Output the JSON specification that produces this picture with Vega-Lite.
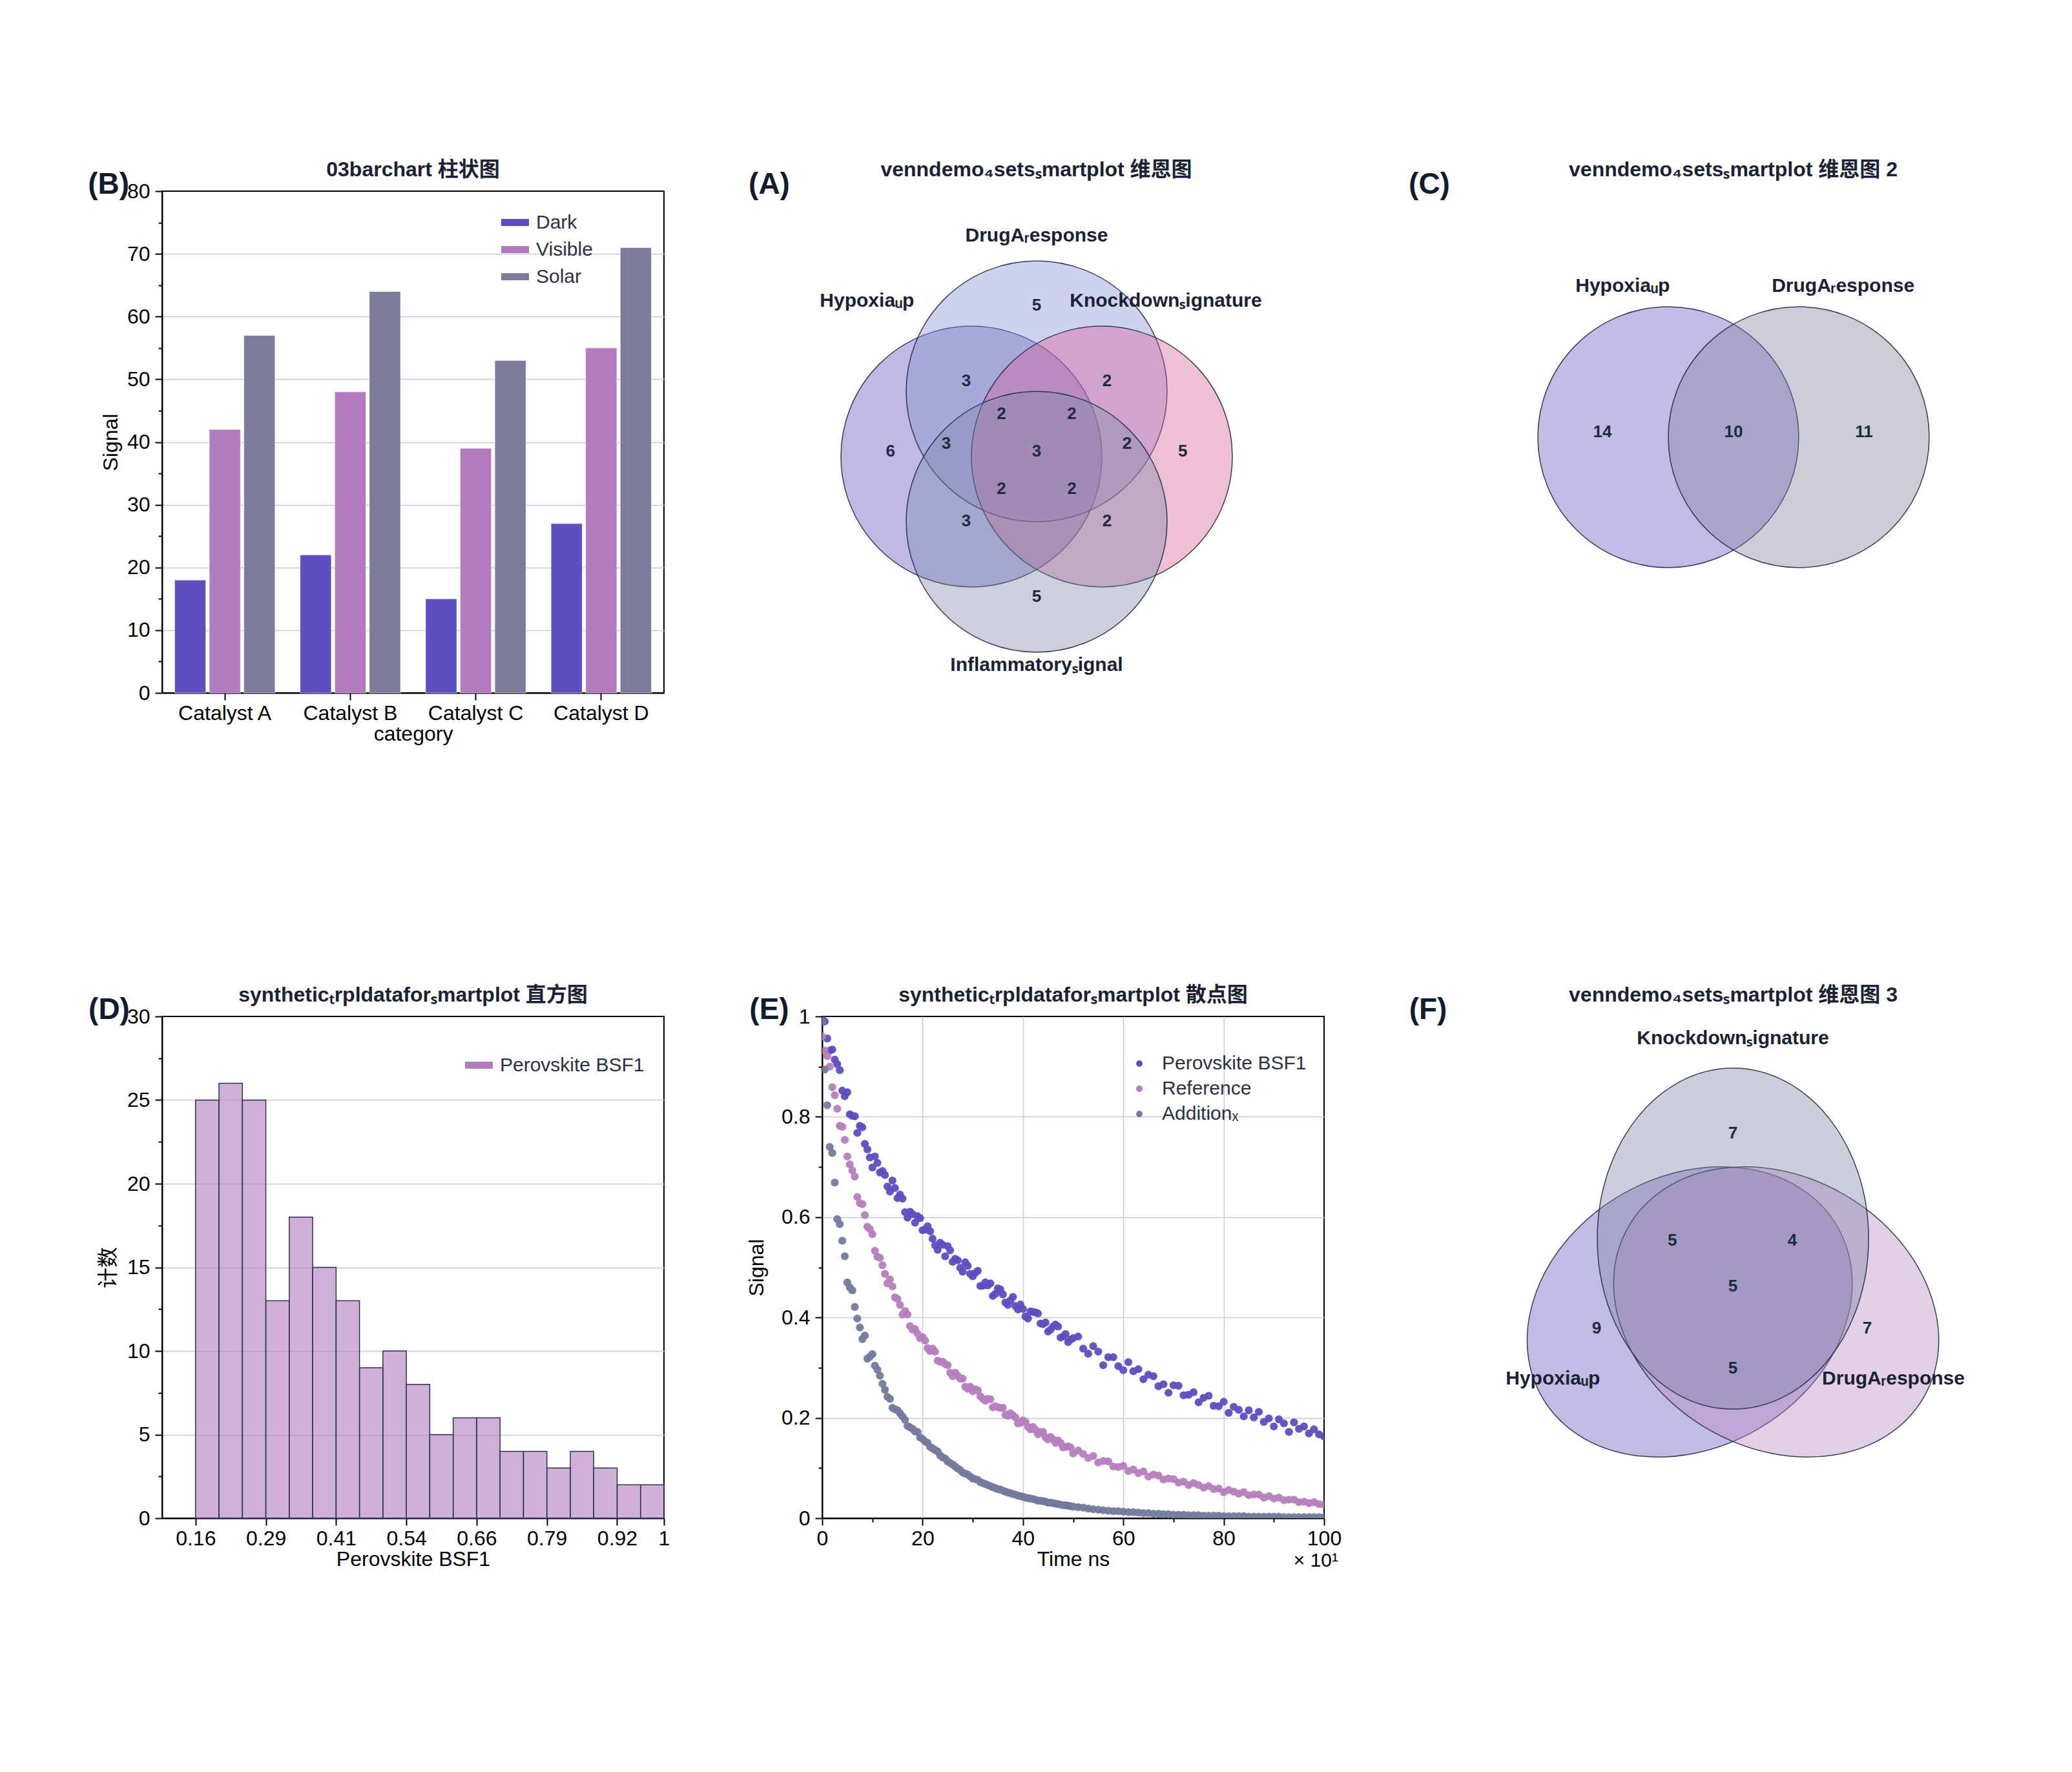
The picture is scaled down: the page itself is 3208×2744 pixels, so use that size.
{
"$schema":"https://vega.github.io/schema/vega-lite/v6.json",
"background":"white",
"padding":{"left":135,"top":246,"right":40,"bottom":40},
"bounds":"flush",
"columns":3,
"spacing":{"row":501,"column":245},
"resolve":{"scale":{"color":"independent"},"legend":{"color":"independent"}},
"config":{
 "font":"Liberation Sans, Noto Sans CJK SC",
 "view":{"stroke":"black","strokeWidth":2},
 "title":{"fontSize":32,"fontWeight":"bold","color":"#1a2233","anchor":"middle","frame":"group","offset":-17},
 "axis":{"domainColor":"black","domainWidth":2,"tickColor":"black","tickWidth":2,"tickSize":11,"labelFontSize":32,"labelColor":"black","labelPadding":8,"labelFlush":false,"labelOverlap":false,"titleFontSize":32,"titleFontWeight":"normal","titleColor":"black","titlePadding":8,"gridColor":"#c5cbd6","gridWidth":1.5},
 "axisX":{"labelPadding":5,"titlePadding":1},
 "legend":{"labelFontSize":30,"labelColor":"#2b3140","labelLimit":0,"symbolStrokeWidth":0,"symbolOpacity":1,"rowPadding":12}
},
"concat":[
 {
  "width":777,"height":777,
  "title":{"text":"03barchart 柱状图"},
  "encoding":{
   "x":{"field":"category","type":"nominal","scale":{"paddingInner":0.2,"paddingOuter":0.1},"axis":{"title":"category","labelAngle":0,"grid":false}},
   "y":{"field":"value","type":"quantitative","scale":{"domain":[0,80],"nice":false},"axis":{"title":"Signal","values":[0,5,10,15,20,25,30,35,40,45,50,55,60,65,70,75,80],"labelExpr":"datum.value % 10 === 0 ? datum.label : ''","tickSize":{"condition":{"test":"datum.value % 10 === 0","value":11},"value":6},"gridOpacity":{"condition":{"test":"datum.value % 10 === 0 && datum.value > 0 && datum.value < 80","value":1},"value":0}}}
  },
  "layer":[
   {"data":{"values":[
     {"category":"Catalyst A","series":"Dark","value":18},
     {"category":"Catalyst A","series":"Visible","value":42},
     {"category":"Catalyst A","series":"Solar","value":57},
     {"category":"Catalyst B","series":"Dark","value":22},
     {"category":"Catalyst B","series":"Visible","value":48},
     {"category":"Catalyst B","series":"Solar","value":64},
     {"category":"Catalyst C","series":"Dark","value":15},
     {"category":"Catalyst C","series":"Visible","value":39},
     {"category":"Catalyst C","series":"Solar","value":53},
     {"category":"Catalyst D","series":"Dark","value":27},
     {"category":"Catalyst D","series":"Visible","value":55},
     {"category":"Catalyst D","series":"Solar","value":71}]},
    "mark":{"type":"bar","stroke":"white","strokeWidth":1,"strokeOpacity":0.6},
    "encoding":{
     "xOffset":{"field":"series","type":"nominal","sort":["Dark","Visible","Solar"],"scale":{"paddingInner":0.1}},
     "color":{"field":"series","type":"nominal","scale":{"domain":["Dark","Visible","Solar"],"range":["#5c4fc0","#b27bbd","#7b7b9c"]},"legend":{"title":null,"orient":"none","legendX":525,"legendY":27,"symbolType":"M-1,-0.26L1,-0.26L1,0.26L-1,0.26Z","symbolSize":1849,"labelOffset":11,"rowPadding":5}}}},
   {"data":{"values":[{"tag":"(B)","category":"Catalyst A","value":80}]},
    "mark":{"type":"text","fontSize":46,"fontWeight":"bold","color":"#131c2e","baseline":"middle","dx":-180,"dy":-10},
    "encoding":{"text":{"field":"tag"}}}
  ]
 },
 {
  "width":777,"height":777,
  "view":{"stroke":null},
  "title":{"text":"venndemo₄setsₛmartplot 维恩图","dx":-57},
  "encoding":{
   "x":{"field":"x","type":"quantitative","scale":{"domain":[-3.287,4.406],"nice":false,"zero":false},"axis":null},
   "y":{"field":"y","type":"quantitative","scale":{"domain":[-3.624,4.069],"nice":false,"zero":false},"axis":null}
  },
  "layer":[
   {"data":{"values":[{"set":"Hypoxia_up","x":-1,"y":0},{"set":"DrugA_response","x":0,"y":1},{"set":"Knockdown_signature","x":1,"y":0},{"set":"Inflammatory_signal","x":0,"y":-1}]},
    "mark":{"type":"point","shape":"circle","filled":true,"size":163216,"opacity":1,"fillOpacity":0.4,"stroke":"#222c45","strokeWidth":1.5,"strokeOpacity":0.9},
    "encoding":{"color":{"field":"set","type":"nominal","scale":{"domain":["Hypoxia_up","DrugA_response","Knockdown_signature","Inflammatory_signal"],"range":["#6250b9","#878ed4","#d45f96","#7d89a7"]},"legend":null}}},
   {"data":{"values":[
     {"n":"5","x":0,"y":2.32},{"n":"3","x":-1.08,"y":1.16},{"n":"2","x":1.08,"y":1.16},
     {"n":"2","x":-0.54,"y":0.65},{"n":"2","x":0.54,"y":0.65},
     {"n":"6","x":-2.24,"y":0.08},{"n":"3","x":-1.385,"y":0.2},{"n":"3","x":0,"y":0.08},{"n":"2","x":1.385,"y":0.2},{"n":"5","x":2.24,"y":0.08},
     {"n":"2","x":-0.54,"y":-0.5},{"n":"2","x":0.54,"y":-0.5},
     {"n":"3","x":-1.08,"y":-0.99},{"n":"2","x":1.08,"y":-0.99},{"n":"5","x":0,"y":-2.15}]},
    "mark":{"type":"text","fontSize":26,"fontWeight":"bold","color":"#1f2b40","baseline":"middle"},
    "encoding":{"text":{"field":"n"}}},
   {"data":{"values":[
     {"label":"DrugAᵣesponse","x":0,"y":3.39},{"label":"Hypoxiaᵤp","x":-2.6,"y":2.39},
     {"label":"Knockdownₛignature","x":1.98,"y":2.39},{"label":"Inflammatoryₛignal","x":0,"y":-3.2}]},
    "mark":{"type":"text","fontSize":30,"fontWeight":"bold","color":"#1a2233","baseline":"middle"},
    "encoding":{"text":{"field":"label"}}},
   {"data":{"values":[{"tag":"(A)","x":-3.287,"y":4.069}]},
    "mark":{"type":"text","fontSize":46,"fontWeight":"bold","color":"#131c2e","baseline":"middle","dx":-82,"dy":-10},
    "encoding":{"text":{"field":"tag"}}}
  ]
 },
 {
  "width":777,"height":777,
  "view":{"stroke":null},
  "title":{"text":"venndemo₄setsₛmartplot 维恩图 2"},
  "encoding":{
   "x":{"field":"x","type":"quantitative","scale":{"domain":[-3.851,3.842],"nice":false,"zero":false},"axis":null},
   "y":{"field":"y","type":"quantitative","scale":{"domain":[-3.921,3.772],"nice":false,"zero":false},"axis":null}
  },
  "layer":[
   {"data":{"values":[{"set":"Hypoxia_up","x":-1,"y":0},{"set":"DrugA_response","x":1,"y":0}]},
    "mark":{"type":"point","shape":"circle","filled":true,"size":163216,"opacity":1,"fillOpacity":0.4,"stroke":"#222c45","strokeWidth":1.5,"strokeOpacity":0.9},
    "encoding":{"color":{"field":"set","type":"nominal","scale":{"domain":["Hypoxia_up","DrugA_response"],"range":["#6455c1","#8282a0"]},"legend":null}}},
   {"data":{"values":[{"n":"14","x":-2.01,"y":0.08},{"n":"10","x":0,"y":0.08},{"n":"11","x":2.0,"y":0.08}]},
    "mark":{"type":"text","fontSize":26,"fontWeight":"bold","color":"#1f2b40","baseline":"middle"},
    "encoding":{"text":{"field":"n"}}},
   {"data":{"values":[{"label":"Hypoxiaᵤp","x":-1.7,"y":2.32},{"label":"DrugAᵣesponse","x":1.68,"y":2.32}]},
    "mark":{"type":"text","fontSize":30,"fontWeight":"bold","color":"#1a2233","baseline":"middle"},
    "encoding":{"text":{"field":"label"}}},
   {"data":{"values":[{"tag":"(C)","x":-3.851,"y":3.772}]},
    "mark":{"type":"text","fontSize":46,"fontWeight":"bold","color":"#131c2e","baseline":"middle","dx":-82,"dy":-10},
    "encoding":{"text":{"field":"tag"}}}
  ]
 },
 {
  "width":777,"height":777,
  "title":{"text":"syntheticₜrpldataforₛmartplot 直方图"},
  "encoding":{
   "x":{"field":"b0","type":"quantitative","scale":{"domain":[0.1,1.0],"nice":false,"zero":false},"axis":{"title":"Perovskite BSF1","values":[0.16,0.286,0.412,0.538,0.664,0.79,0.916,1.0],"format":".2~f","grid":false}},
   "y":{"field":"n","type":"quantitative","scale":{"domain":[0,30],"nice":false},"axis":{"title":"计数","titlePadding":12,"values":[0,2.5,5,7.5,10,12.5,15,17.5,20,22.5,25,27.5,30],"labelExpr":"datum.value % 5 === 0 ? datum.label : ''","tickSize":{"condition":{"test":"datum.value % 5 === 0","value":11},"value":6},"gridOpacity":{"condition":{"test":"datum.value % 5 === 0 && datum.value > 0 && datum.value < 30","value":1},"value":0}}}
  },
  "layer":[
   {"data":{"values":[
     {"b0":0.160,"b1":0.202,"n":25},{"b0":0.202,"b1":0.244,"n":26},{"b0":0.244,"b1":0.286,"n":25},
     {"b0":0.286,"b1":0.328,"n":13},{"b0":0.328,"b1":0.370,"n":18},{"b0":0.370,"b1":0.412,"n":15},
     {"b0":0.412,"b1":0.454,"n":13},{"b0":0.454,"b1":0.496,"n":9},{"b0":0.496,"b1":0.538,"n":10},
     {"b0":0.538,"b1":0.580,"n":8},{"b0":0.580,"b1":0.622,"n":5},{"b0":0.622,"b1":0.664,"n":6},
     {"b0":0.664,"b1":0.706,"n":6},{"b0":0.706,"b1":0.748,"n":4},{"b0":0.748,"b1":0.790,"n":4},
     {"b0":0.790,"b1":0.832,"n":3},{"b0":0.832,"b1":0.874,"n":4},{"b0":0.874,"b1":0.916,"n":3},
     {"b0":0.916,"b1":0.958,"n":2},{"b0":0.958,"b1":1.000,"n":2}]},
    "mark":{"type":"bar","fillOpacity":0.6,"stroke":"#2b3450","strokeWidth":1.5},
    "encoding":{
     "x2":{"field":"b1"},
     "y2":{"datum":0},
     "color":{"datum":"Perovskite BSF1","type":"nominal","scale":{"domain":["Perovskite BSF1"],"range":["#b27bbd"]},"legend":{"title":null,"orient":"none","legendX":469,"legendY":54,"symbolType":"M-1,-0.26L1,-0.26L1,0.26L-1,0.26Z","symbolSize":1849,"labelOffset":11,"rowPadding":5}}}},
   {"data":{"values":[{"tag":"(D)","b0":0.1,"n":30}]},
    "mark":{"type":"text","fontSize":46,"fontWeight":"bold","color":"#131c2e","baseline":"middle","dx":-82,"dy":-10},
    "encoding":{"text":{"field":"tag"}}}
  ]
 },
 {
  "width":777,"height":777,
  "title":{"text":"syntheticₜrpldataforₛmartplot 散点图"},
  "encoding":{
   "x":{"field":"t","type":"quantitative","scale":{"domain":[0,100],"nice":false,"zero":false},"axis":{"title":"Time ns","values":[0,10,20,30,40,50,60,70,80,90,100],"labelExpr":"datum.value % 20 === 0 ? datum.label : ''","tickSize":{"condition":{"test":"datum.value % 20 === 0","value":11},"value":6},"gridOpacity":{"condition":{"test":"datum.value % 20 === 0 && datum.value > 0 && datum.value < 100","value":1},"value":0}}},
   "y":{"field":"v","type":"quantitative","scale":{"domain":[0,1],"nice":false,"zero":false},"axis":{"title":"Signal","titlePadding":21,"values":[0,0.1,0.2,0.3,0.4,0.5,0.6,0.7,0.8,0.9,1],"labelExpr":"round(datum.value*10) % 2 === 0 ? format(datum.value, '~g') : ''","tickSize":{"condition":{"test":"round(datum.value*10) % 2 === 0","value":11},"value":6},"gridOpacity":{"condition":{"test":"round(datum.value*10) % 2 === 0 && datum.value > 0 && datum.value < 1","value":1},"value":0}}}
  },
  "layer":[
   {"data":{"values":[
{"t":0,"v":1},{"t":0.5,"v":0.99},{"t":1,"v":0.956},{"t":1.5,"v":0.932},{"t":2,"v":0.934},{"t":2.5,"v":0.914},{"t":3,"v":0.905},{"t":3.5,"v":0.893},{"t":4,"v":0.852},{"t":4.5,"v":0.841},
{"t":5,"v":0.849},{"t":5.5,"v":0.805},{"t":6,"v":0.802},{"t":6.5,"v":0.801},{"t":7,"v":0.768},{"t":7.5,"v":0.782},{"t":8,"v":0.779},{"t":8.5,"v":0.746},{"t":9,"v":0.735},{"t":9.5,"v":0.719},
{"t":10,"v":0.699},{"t":10.5,"v":0.721},{"t":11,"v":0.708},{"t":11.5,"v":0.689},{"t":12,"v":0.692},{"t":12.5,"v":0.684},{"t":13,"v":0.661},{"t":13.5,"v":0.651},{"t":14,"v":0.673},{"t":14.5,"v":0.658},
{"t":15,"v":0.638},{"t":15.5,"v":0.645},{"t":16,"v":0.637},{"t":16.5,"v":0.61},{"t":17,"v":0.599},{"t":17.5,"v":0.611},{"t":18,"v":0.606},{"t":18.5,"v":0.589},{"t":19,"v":0.602},{"t":19.5,"v":0.598},
{"t":20,"v":0.574},{"t":20.5,"v":0.575},{"t":21,"v":0.582},{"t":21.5,"v":0.572},{"t":22,"v":0.557},{"t":22.5,"v":0.544},{"t":23,"v":0.535},{"t":23.5,"v":0.549},{"t":24,"v":0.545},{"t":24.5,"v":0.522},
{"t":25,"v":0.542},{"t":25.5,"v":0.534},{"t":26,"v":0.511},{"t":26.5,"v":0.517},{"t":27,"v":0.514},{"t":27.5,"v":0.499},{"t":28,"v":0.491},{"t":28.5,"v":0.51},{"t":29,"v":0.503},{"t":29.5,"v":0.487},
{"t":30,"v":0.482},{"t":30.5,"v":0.489},{"t":31,"v":0.493},{"t":31.5,"v":0.463},{"t":32,"v":0.463},{"t":32.5,"v":0.47},{"t":33,"v":0.464},{"t":33.5,"v":0.468},{"t":34,"v":0.443},{"t":34.5,"v":0.447},
{"t":35,"v":0.458},{"t":35.5,"v":0.456},{"t":36,"v":0.446},{"t":36.5,"v":0.43},{"t":37,"v":0.425},{"t":37.5,"v":0.434},{"t":38,"v":0.441},{"t":38.5,"v":0.423},{"t":39,"v":0.416},{"t":39.5,"v":0.426},
{"t":40,"v":0.417},{"t":40.5,"v":0.402},{"t":41,"v":0.398},{"t":41.5,"v":0.412},{"t":42,"v":0.411},{"t":42.5,"v":0.41},{"t":43,"v":0.408},{"t":43.5,"v":0.388},{"t":44,"v":0.387},{"t":44.5,"v":0.39},
{"t":45,"v":0.372},{"t":45.5,"v":0.376},{"t":46,"v":0.382},{"t":46.5,"v":0.386},{"t":47,"v":0.382},{"t":47.5,"v":0.36},{"t":48,"v":0.362},{"t":48.5,"v":0.367},{"t":49,"v":0.351},{"t":49.5,"v":0.356},
{"t":50,"v":0.359},{"t":51,"v":0.362},{"t":52,"v":0.338},{"t":53,"v":0.328},{"t":54,"v":0.343},{"t":55,"v":0.332},{"t":56,"v":0.305},{"t":57,"v":0.321},{"t":58,"v":0.321},{"t":59,"v":0.303},
{"t":60,"v":0.295},{"t":61,"v":0.311},{"t":62,"v":0.293},{"t":63,"v":0.297},{"t":64,"v":0.277},{"t":65,"v":0.286},{"t":66,"v":0.283},{"t":67,"v":0.263},{"t":68,"v":0.267},{"t":69,"v":0.25},
{"t":70,"v":0.265},{"t":71,"v":0.264},{"t":72,"v":0.245},{"t":73,"v":0.246},{"t":74,"v":0.251},{"t":75,"v":0.231},{"t":76,"v":0.24},{"t":77,"v":0.244},{"t":78,"v":0.224},{"t":79,"v":0.223},
{"t":80,"v":0.232},{"t":81,"v":0.21},{"t":82,"v":0.222},{"t":83,"v":0.216},{"t":84,"v":0.203},{"t":85,"v":0.215},{"t":86,"v":0.201},{"t":87,"v":0.212},{"t":88,"v":0.192},{"t":89,"v":0.199},
{"t":90,"v":0.183},{"t":91,"v":0.197},{"t":92,"v":0.189},{"t":93,"v":0.172},{"t":94,"v":0.191},{"t":95,"v":0.178},{"t":96,"v":0.183},{"t":97,"v":0.169},{"t":98,"v":0.177},{"t":99,"v":0.167},{"t":100,"v":0.163}]},
    "mark":{"type":"point","shape":"circle","filled":true,"size":150,"opacity":0.95,"clip":true},
    "encoding":{"color":{"datum":"Perovskite BSF1","type":"nominal","scale":{"domain":["Perovskite BSF1","Reference","Additionₓ"],"range":["#5b4fc0","#b57ebe","#747a9c"]},"legend":{"title":null,"orient":"none","legendX":476,"legendY":58,"symbolType":"circle","symbolSize":100,"labelOffset":20,"rowPadding":9}}}},
   {"data":{"values":[
{"t":0,"v":0.96},{"t":0.5,"v":0.932},{"t":1,"v":0.921},{"t":1.5,"v":0.9},{"t":2,"v":0.859},{"t":2.5,"v":0.843},{"t":3,"v":0.816},{"t":3.5,"v":0.782},{"t":4,"v":0.78},{"t":4.5,"v":0.754},
{"t":5,"v":0.721},{"t":5.5,"v":0.705},{"t":6,"v":0.693},{"t":6.5,"v":0.681},{"t":7,"v":0.64},{"t":7.5,"v":0.628},{"t":8,"v":0.626},{"t":8.5,"v":0.604},{"t":9,"v":0.581},{"t":9.5,"v":0.576},
{"t":10,"v":0.566},{"t":10.5,"v":0.533},{"t":11,"v":0.521},{"t":11.5,"v":0.519},{"t":12,"v":0.504},{"t":12.5,"v":0.487},{"t":13,"v":0.468},{"t":13.5,"v":0.476},{"t":14,"v":0.462},{"t":14.5,"v":0.44},
{"t":15,"v":0.437},{"t":15.5,"v":0.425},{"t":16,"v":0.406},{"t":16.5,"v":0.413},{"t":17,"v":0.406},{"t":17.5,"v":0.383},{"t":18,"v":0.376},{"t":18.5,"v":0.377},{"t":19,"v":0.368},{"t":19.5,"v":0.359},
{"t":20,"v":0.361},{"t":20.5,"v":0.354},{"t":21,"v":0.339},{"t":21.5,"v":0.333},{"t":22,"v":0.338},{"t":22.5,"v":0.332},{"t":23,"v":0.314},{"t":23.5,"v":0.312},{"t":24,"v":0.312},{"t":24.5,"v":0.307},
{"t":25,"v":0.305},{"t":25.5,"v":0.29},{"t":26,"v":0.283},{"t":26.5,"v":0.29},{"t":27,"v":0.284},{"t":27.5,"v":0.278},{"t":28,"v":0.278},{"t":28.5,"v":0.262},{"t":29,"v":0.258},{"t":29.5,"v":0.262},
{"t":30,"v":0.253},{"t":30.5,"v":0.257},{"t":31,"v":0.255},{"t":31.5,"v":0.243},{"t":32,"v":0.238},{"t":32.5,"v":0.234},{"t":33,"v":0.238},{"t":33.5,"v":0.237},{"t":34,"v":0.221},{"t":34.5,"v":0.223},
{"t":35,"v":0.221},{"t":35.5,"v":0.22},{"t":36,"v":0.22},{"t":36.5,"v":0.206},{"t":37,"v":0.204},{"t":37.5,"v":0.209},{"t":38,"v":0.205},{"t":38.5,"v":0.201},{"t":39,"v":0.189},{"t":39.5,"v":0.19},
{"t":40,"v":0.195},{"t":40.5,"v":0.192},{"t":41,"v":0.182},{"t":41.5,"v":0.177},{"t":42,"v":0.182},{"t":42.5,"v":0.176},{"t":43,"v":0.167},{"t":43.5,"v":0.172},{"t":44,"v":0.172},{"t":44.5,"v":0.161},
{"t":45,"v":0.157},{"t":45.5,"v":0.162},{"t":46,"v":0.157},{"t":46.5,"v":0.15},{"t":47,"v":0.155},{"t":47.5,"v":0.15},{"t":48,"v":0.141},{"t":48.5,"v":0.142},{"t":49,"v":0.143},{"t":49.5,"v":0.141},
{"t":50,"v":0.129},{"t":51,"v":0.135},{"t":52,"v":0.128},{"t":53,"v":0.12},{"t":54,"v":0.124},{"t":55,"v":0.111},{"t":56,"v":0.114},{"t":57,"v":0.113},{"t":58,"v":0.103},{"t":59,"v":0.102},
{"t":60,"v":0.104},{"t":61,"v":0.094},{"t":62,"v":0.097},{"t":63,"v":0.09},{"t":64,"v":0.093},{"t":65,"v":0.083},{"t":66,"v":0.087},{"t":67,"v":0.085},{"t":68,"v":0.077},{"t":69,"v":0.079},
{"t":70,"v":0.078},{"t":71,"v":0.071},{"t":72,"v":0.073},{"t":73,"v":0.066},{"t":74,"v":0.07},{"t":75,"v":0.066},{"t":76,"v":0.061},{"t":77,"v":0.064},{"t":78,"v":0.058},{"t":79,"v":0.059},
{"t":80,"v":0.052},{"t":81,"v":0.056},{"t":82,"v":0.053},{"t":83,"v":0.049},{"t":84,"v":0.052},{"t":85,"v":0.046},{"t":86,"v":0.047},{"t":87,"v":0.047},{"t":88,"v":0.041},{"t":89,"v":0.044},
{"t":90,"v":0.039},{"t":91,"v":0.041},{"t":92,"v":0.036},{"t":93,"v":0.037},{"t":94,"v":0.037},{"t":95,"v":0.032},{"t":96,"v":0.033},{"t":97,"v":0.03},{"t":98,"v":0.032},{"t":99,"v":0.028},{"t":100,"v":0.027}]},
    "mark":{"type":"point","shape":"circle","filled":true,"size":150,"opacity":0.95,"clip":true},
    "encoding":{"color":{"datum":"Reference","type":"nominal","scale":{"domain":["Perovskite BSF1","Reference","Additionₓ"],"range":["#5b4fc0","#b57ebe","#747a9c"]}}}},
   {"data":{"values":[
{"t":0,"v":0.99},{"t":0.5,"v":0.894},{"t":1,"v":0.823},{"t":1.5,"v":0.74},{"t":2,"v":0.728},{"t":2.5,"v":0.669},{"t":3,"v":0.596},{"t":3.5,"v":0.586},{"t":4,"v":0.553},{"t":4.5,"v":0.522},
{"t":5,"v":0.47},{"t":5.5,"v":0.46},{"t":6,"v":0.454},{"t":6.5,"v":0.421},{"t":7,"v":0.398},{"t":7.5,"v":0.38},{"t":8,"v":0.357},{"t":8.5,"v":0.364},{"t":9,"v":0.318},{"t":9.5,"v":0.322},
{"t":10,"v":0.327},{"t":10.5,"v":0.304},{"t":11,"v":0.296},{"t":11.5,"v":0.284},{"t":12,"v":0.268},{"t":12.5,"v":0.256},{"t":13,"v":0.242},{"t":13.5,"v":0.238},{"t":14,"v":0.22},{"t":14.5,"v":0.217},
{"t":15,"v":0.215},{"t":15.5,"v":0.209},{"t":16,"v":0.203},{"t":16.5,"v":0.196},{"t":17,"v":0.184},{"t":17.5,"v":0.181},{"t":18,"v":0.178},{"t":18.5,"v":0.173},{"t":19,"v":0.172},{"t":19.5,"v":0.161},
{"t":20,"v":0.158},{"t":20.5,"v":0.153},{"t":21,"v":0.15},{"t":21.5,"v":0.142},{"t":22,"v":0.139},{"t":22.5,"v":0.136},{"t":23,"v":0.133},{"t":23.5,"v":0.125},{"t":24,"v":0.121},{"t":24.5,"v":0.119},
{"t":25,"v":0.113},{"t":25.5,"v":0.11},{"t":26,"v":0.107},{"t":26.5,"v":0.103},{"t":27,"v":0.099},{"t":27.5,"v":0.096},{"t":28,"v":0.091},{"t":28.5,"v":0.089},{"t":29,"v":0.087},{"t":29.5,"v":0.083},
{"t":30,"v":0.079},{"t":30.5,"v":0.078},{"t":31,"v":0.076},{"t":31.5,"v":0.072},{"t":32,"v":0.07},{"t":32.5,"v":0.068},{"t":33,"v":0.066},{"t":33.5,"v":0.064},{"t":34,"v":0.062},{"t":34.5,"v":0.06},
{"t":35,"v":0.058},{"t":35.5,"v":0.057},{"t":36,"v":0.055},{"t":36.5,"v":0.053},{"t":37,"v":0.051},{"t":37.5,"v":0.05},{"t":38,"v":0.048},{"t":38.5,"v":0.047},{"t":39,"v":0.045},{"t":39.5,"v":0.044},
{"t":40,"v":0.043},{"t":40.5,"v":0.041},{"t":41,"v":0.04},{"t":41.5,"v":0.039},{"t":42,"v":0.038},{"t":42.5,"v":0.037},{"t":43,"v":0.035},{"t":43.5,"v":0.035},{"t":44,"v":0.034},{"t":44.5,"v":0.033},
{"t":45,"v":0.031},{"t":45.5,"v":0.031},{"t":46,"v":0.03},{"t":46.5,"v":0.029},{"t":47,"v":0.028},{"t":47.5,"v":0.027},{"t":48,"v":0.026},{"t":48.5,"v":0.026},{"t":49,"v":0.025},{"t":49.5,"v":0.024},
{"t":50,"v":0.023},{"t":51,"v":0.022},{"t":52,"v":0.021},{"t":53,"v":0.019},{"t":54,"v":0.018},{"t":55,"v":0.017},{"t":56,"v":0.016},{"t":57,"v":0.015},{"t":58,"v":0.014},{"t":59,"v":0.014},
{"t":60,"v":0.013},{"t":61,"v":0.012},{"t":62,"v":0.012},{"t":63,"v":0.011},{"t":64,"v":0.01},{"t":65,"v":0.01},{"t":66,"v":0.009},{"t":67,"v":0.009},{"t":68,"v":0.008},{"t":69,"v":0.008},
{"t":70,"v":0.007},{"t":71,"v":0.007},{"t":72,"v":0.007},{"t":73,"v":0.006},{"t":74,"v":0.006},{"t":75,"v":0.006},{"t":76,"v":0.005},{"t":77,"v":0.005},{"t":78,"v":0.005},{"t":79,"v":0.005},
{"t":80,"v":0.004},{"t":81,"v":0.004},{"t":82,"v":0.004},{"t":83,"v":0.004},{"t":84,"v":0.004},{"t":85,"v":0.003},{"t":86,"v":0.003},{"t":87,"v":0.003},{"t":88,"v":0.003},{"t":89,"v":0.003},
{"t":90,"v":0.003},{"t":91,"v":0.003},{"t":92,"v":0.002},{"t":93,"v":0.002},{"t":94,"v":0.002},{"t":95,"v":0.002},{"t":96,"v":0.002},{"t":97,"v":0.002},{"t":98,"v":0.002},{"t":99,"v":0.002},{"t":100,"v":0.002}]},
    "mark":{"type":"point","shape":"circle","filled":true,"size":150,"opacity":0.95,"clip":true},
    "encoding":{"color":{"datum":"Additionₓ","type":"nominal","scale":{"domain":["Perovskite BSF1","Reference","Additionₓ"],"range":["#5b4fc0","#b57ebe","#747a9c"]}}}},
   {"data":{"values":[{"tag":"(E)","t":0,"v":1}]},
    "mark":{"type":"text","fontSize":46,"fontWeight":"bold","color":"#131c2e","baseline":"middle","dx":-82,"dy":-10},
    "encoding":{"text":{"field":"tag"}}},
   {"data":{"values":[{"tag":"× 10¹","t":100,"v":0}]},
    "mark":{"type":"text","fontSize":30,"color":"black","align":"right","baseline":"middle","dx":22,"dy":66},
    "encoding":{"text":{"field":"tag"}}}
  ]
 },
 {
  "width":777,"height":777,
  "view":{"stroke":null},
  "title":{"text":"venndemo₄setsₛmartplot 维恩图 3"},
  "encoding":{
   "x":{"field":"x","type":"quantitative","scale":{"domain":[-3.842,3.851],"nice":false,"zero":false},"axis":null},
   "y":{"field":"y","type":"quantitative","scale":{"domain":[-4.292,3.411],"nice":false,"zero":false},"axis":null}
  },
  "layer":[
   {"data":{"values":[{"set":"Hypoxia_up","x":-0.663,"y":-1.124}]},
    "mark":{"type":"point","shape":"M0,-1A0.7955,1,0,1,1,0,1A0.7955,1,0,1,1,0,-1Z","angle":60,"filled":true,"size":278784,"opacity":1,"fillOpacity":0.4,"stroke":"#222c45","strokeWidth":1.5,"strokeOpacity":0.9},
    "encoding":{"color":{"field":"set","type":"nominal","scale":{"domain":["Hypoxia_up","DrugA_response","Knockdown_signature"],"range":["#6458b9","#b487c0","#7d84a5"]},"legend":null}}},
   {"data":{"values":[{"set":"DrugA_response","x":0.663,"y":-1.124}]},
    "mark":{"type":"point","shape":"M0,-1A0.7955,1,0,1,1,0,1A0.7955,1,0,1,1,0,-1Z","angle":-60,"filled":true,"size":278784,"opacity":1,"fillOpacity":0.4,"stroke":"#222c45","strokeWidth":1.5,"strokeOpacity":0.9},
    "encoding":{"color":{"field":"set","type":"nominal","scale":{"domain":["Hypoxia_up","DrugA_response","Knockdown_signature"],"range":["#6458b9","#b487c0","#7d84a5"]},"legend":null}}},
   {"data":{"values":[{"set":"Knockdown_signature","x":0,"y":0}]},
    "mark":{"type":"point","shape":"M0,-1A0.7955,1,0,1,1,0,1A0.7955,1,0,1,1,0,-1Z","angle":0,"filled":true,"size":278784,"opacity":1,"fillOpacity":0.4,"stroke":"#222c45","strokeWidth":1.5,"strokeOpacity":0.9},
    "encoding":{"color":{"field":"set","type":"nominal","scale":{"domain":["Hypoxia_up","DrugA_response","Knockdown_signature"],"range":["#6458b9","#b487c0","#7d84a5"]},"legend":null}}},
   {"data":{"values":[
     {"n":"7","x":0,"y":1.62},{"n":"5","x":-0.93,"y":-0.03},{"n":"4","x":0.91,"y":-0.03},{"n":"5","x":0,"y":-0.73},
     {"n":"9","x":-2.09,"y":-1.38},{"n":"7","x":2.06,"y":-1.38},{"n":"5","x":0,"y":-1.99}]},
    "mark":{"type":"text","fontSize":26,"fontWeight":"bold","color":"#1f2b40","baseline":"middle"},
    "encoding":{"text":{"field":"n"}}},
   {"data":{"values":[{"label":"Knockdownₛignature","x":0,"y":3.07},{"label":"Hypoxiaᵤp","x":-2.76,"y":-2.15},{"label":"DrugAᵣesponse","x":2.46,"y":-2.15}]},
    "mark":{"type":"text","fontSize":30,"fontWeight":"bold","color":"#1a2233","baseline":"middle"},
    "encoding":{"text":{"field":"label"}}},
   {"data":{"values":[{"tag":"(F)","x":-3.842,"y":3.411}]},
    "mark":{"type":"text","fontSize":46,"fontWeight":"bold","color":"#131c2e","baseline":"middle","dx":-84,"dy":-10},
    "encoding":{"text":{"field":"tag"}}}
  ]
 }
]
}
